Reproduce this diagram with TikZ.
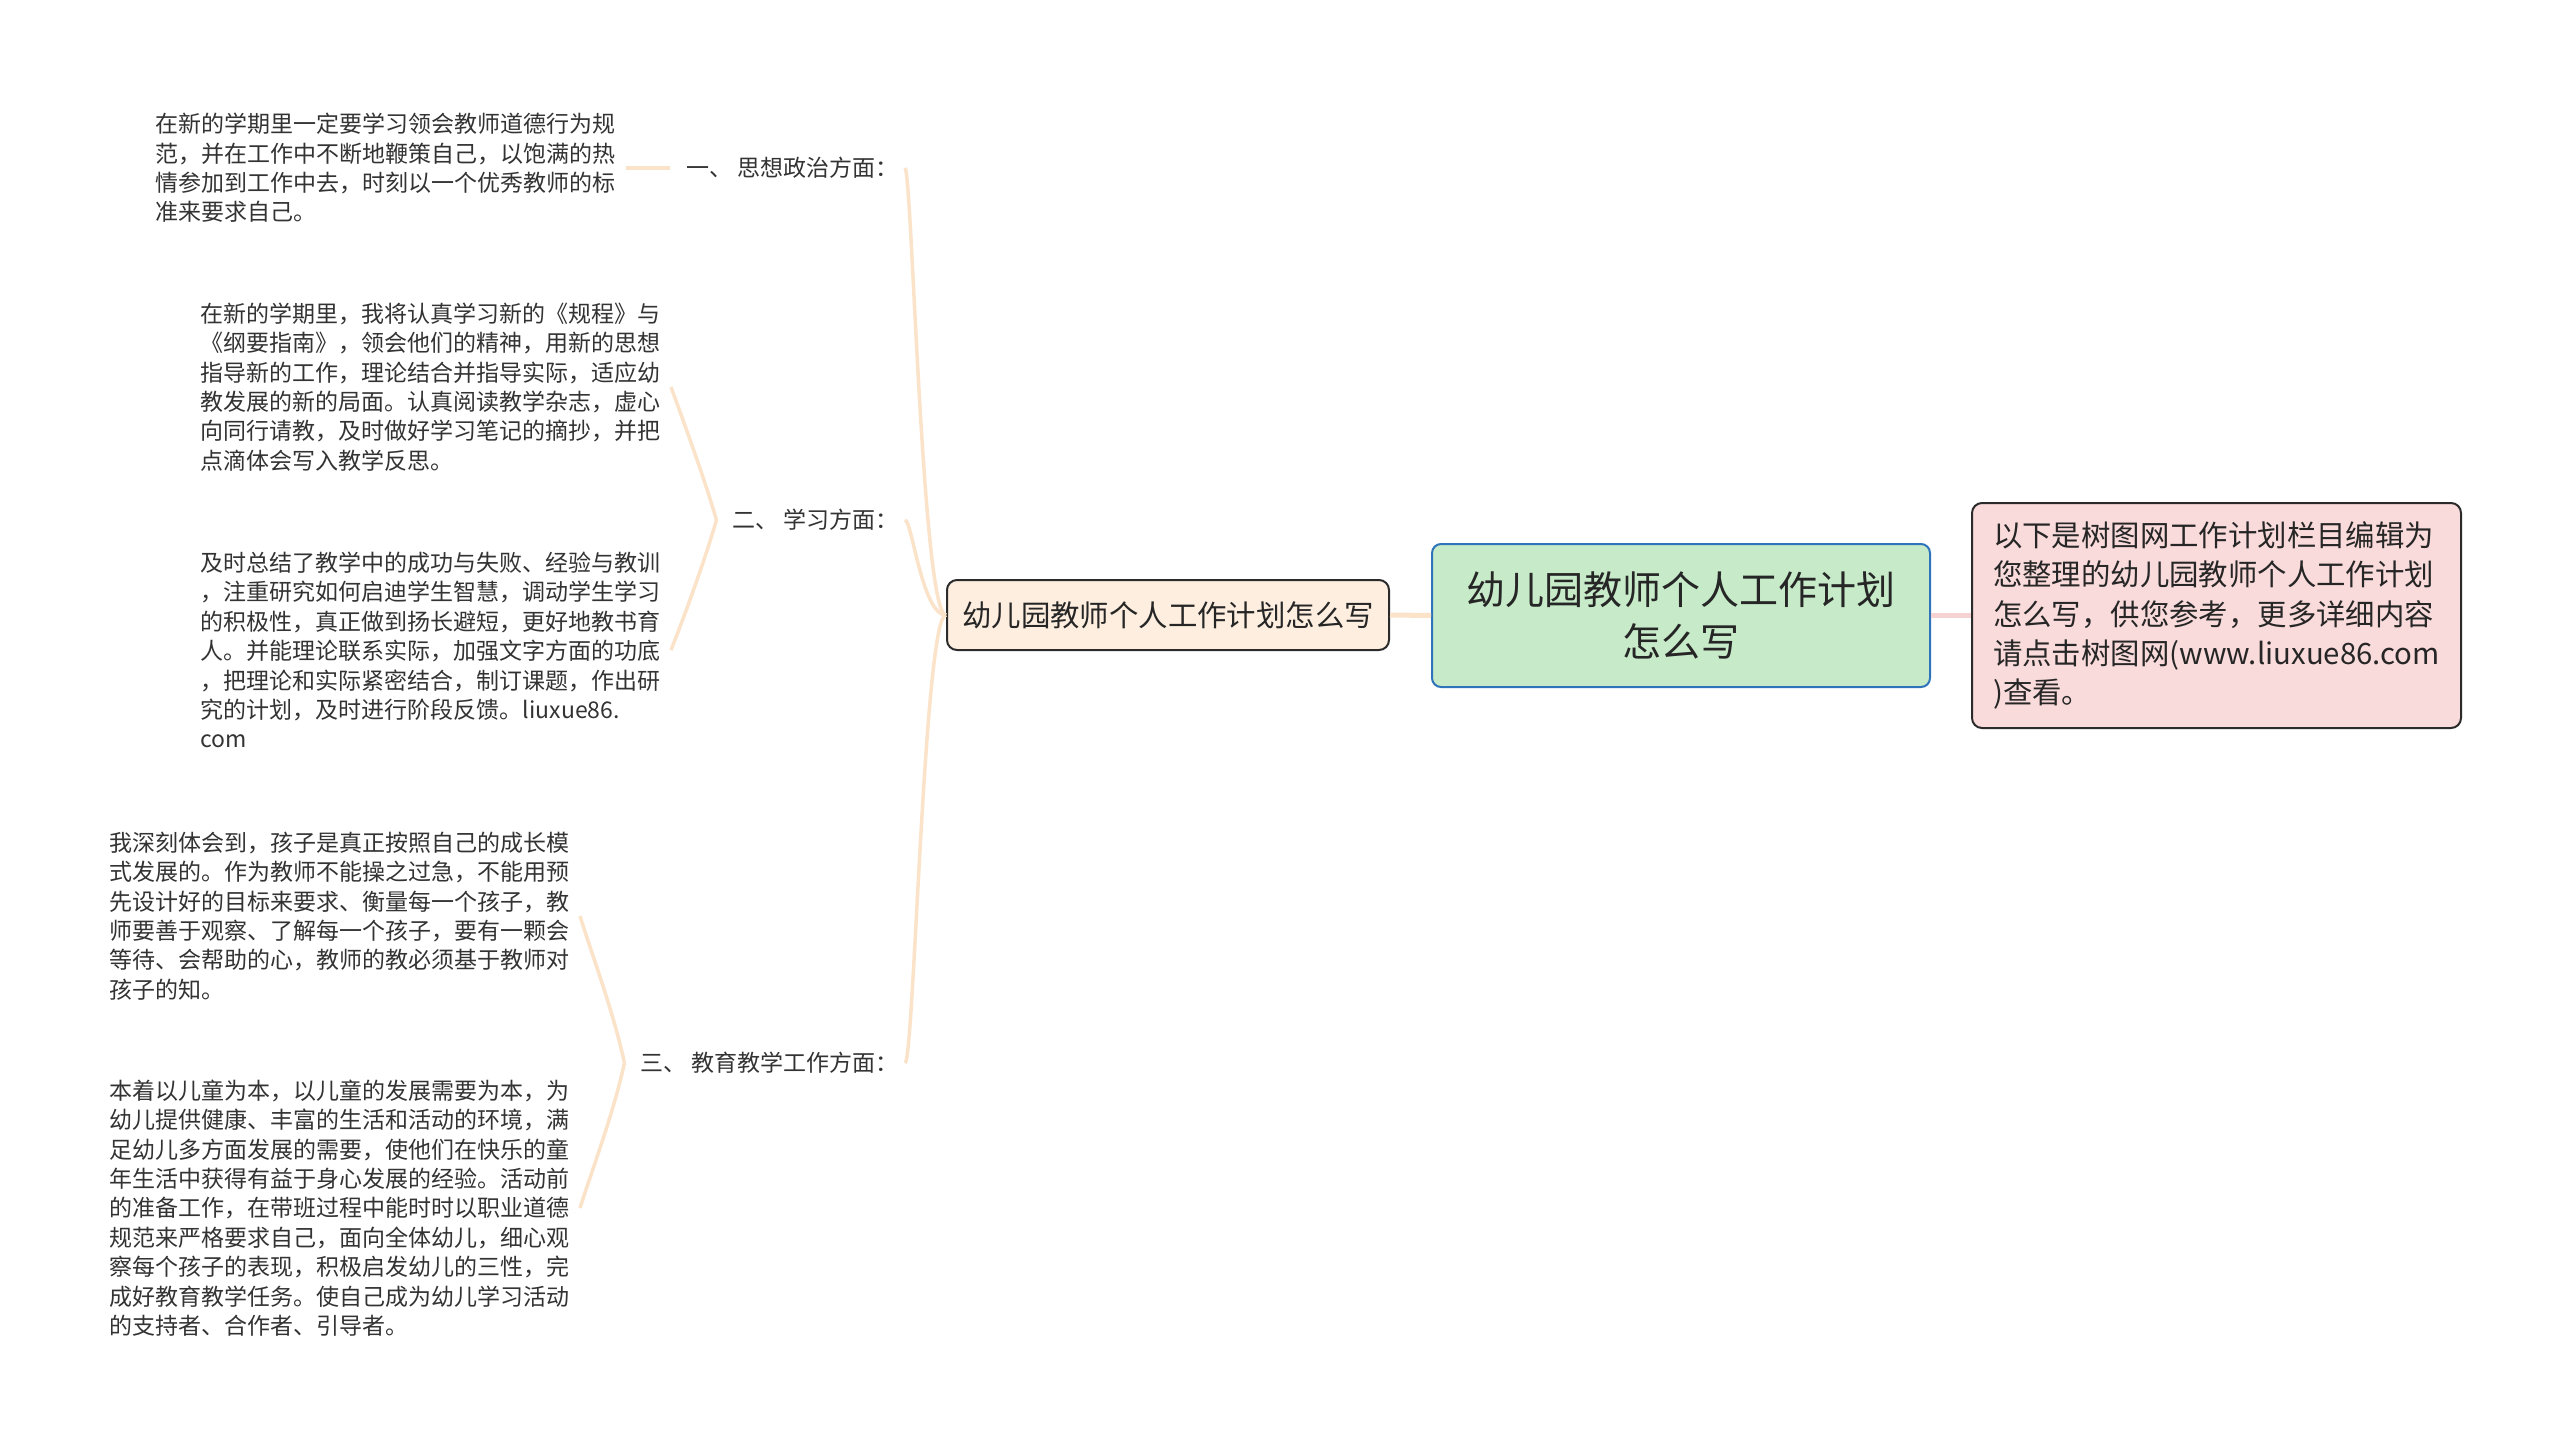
\documentclass[tikz,border=0pt]{standalone}
\usepackage{fontspec}
\setmainfont{Noto Sans CJK SC}
\definecolor{peach}{HTML}{FBE3C9}
\definecolor{pinkline}{HTML}{F7D2D2}
\definecolor{rootfill}{HTML}{C7EBC9}
\definecolor{rootdraw}{HTML}{2F73BA}
\definecolor{leftfill}{HTML}{FDEEDF}
\definecolor{rightfill}{HTML}{FADBDB}
\definecolor{boxdraw}{HTML}{2B2B2B}
\definecolor{txt}{HTML}{333333}
\begin{document}
\begin{tikzpicture}[x=1pt,y=-1pt,
  leaf/.style={font=\fontsize{23pt}{29.4pt}\selectfont, text=txt, align=left, inner xsep=10pt, inner ysep=0pt, anchor=east},
  lab/.style={font=\fontsize{23pt}{29.4pt}\selectfont, text=txt, inner xsep=6pt, inner ysep=2pt},
  conn/.style={draw=peach, line width=3.5pt},
  rootbox/.style={draw=rootdraw, fill=rootfill, line width=2pt, rounded corners=9pt, font=\fontsize{39pt}{52pt}\selectfont, text=black!85, align=center, minimum width=498pt, minimum height=143pt, inner sep=0pt},
  leftbox/.style={draw=boxdraw, fill=leftfill, line width=2pt, rounded corners=10pt, font=\fontsize{29.4pt}{39pt}\selectfont, text=black!85, align=center, minimum width=442pt, minimum height=70pt, inner sep=0pt},
  rightbox/.style={draw=boxdraw, fill=rightfill, line width=2pt, rounded corners=10pt, font=\fontsize{29.4pt}{39.2pt}\selectfont, text=black!85, align=left, minimum width=489pt, minimum height=225pt, inner xsep=17pt, inner ysep=0pt}
]
\useasboundingbox[fill=white] (0,0) rectangle (2560,1452);

% main nodes
\node[rootbox] (root) at (1681,615.5) {幼儿园教师个人工作计划\\怎么写};
\node[leftbox] (left) at (1168,615) {幼儿园教师个人工作计划怎么写};
\node[rightbox] (right) at (2216.5,615.5) {以下是树图网工作计划栏目编辑为\\您整理的幼儿园教师个人工作计划\\怎么写，供您参考，更多详细内容\\请点击树图网(www.liuxue86.com\\)查看。};

% branch labels
\node[lab, anchor=east] (lab1) at (905,168) {\hspace{10pt}一、 思想政治方面：};
\node[lab, anchor=east] (lab2) at (905,520) {\hspace{10pt}二、 学习方面：};
\node[lab, anchor=east] (lab3) at (905,1063) {\hspace{10pt}三、 教育教学工作方面：};

% leaves
\node[leaf] (leaf1) at (626,168) {在新的学期里一定要学习领会教师道德行为规\\范，并在工作中不断地鞭策自己，以饱满的热\\情参加到工作中去，时刻以一个优秀教师的标\\准来要求自己。};
\node[leaf] (leaf2) at (671,387) {在新的学期里，我将认真学习新的《规程》与\\《纲要指南》，领会他们的精神，用新的思想\\指导新的工作，理论结合并指导实际，适应幼\\教发展的新的局面。认真阅读教学杂志，虚心\\向同行请教，及时做好学习笔记的摘抄，并把\\点滴体会写入教学反思。};
\node[leaf] (leaf3) at (671,650) {及时总结了教学中的成功与失败、经验与教训\\，注重研究如何启迪学生智慧，调动学生学习\\的积极性，真正做到扬长避短，更好地教书育\\人。并能理论联系实际，加强文字方面的功底\\，把理论和实际紧密结合，制订课题，作出研\\究的计划，及时进行阶段反馈。liuxue86.\\com};
\node[leaf] (leaf4) at (580,916) {我深刻体会到，孩子是真正按照自己的成长模\\式发展的。作为教师不能操之过急，不能用预\\先设计好的目标来要求、衡量每一个孩子，教\\师要善于观察、了解每一个孩子，要有一颗会\\等待、会帮助的心，教师的教必须基于教师对\\孩子的知。};
\node[leaf] (leaf5) at (580,1208) {本着以儿童为本，以儿童的发展需要为本，为\\幼儿提供健康、丰富的生活和活动的环境，满\\足幼儿多方面发展的需要，使他们在快乐的童\\年生活中获得有益于身心发展的经验。活动前\\的准备工作，在带班过程中能时时以职业道德\\规范来严格要求自己，面向全体幼儿，细心观\\察每个孩子的表现，积极启发幼儿的三性，完\\成好教育教学任务。使自己成为幼儿学习活动\\的支持者、合作者、引导者。};

% connectors
\draw[conn, line width=5pt] (root.west) -- (left.east);
\draw[draw=pinkline, line width=5pt] (root.east) -- (right.west);
\draw[conn] (left.west) .. controls (922,615) and (912,170) .. (lab1.east);
\draw[conn] (left.west) .. controls (922,615) and (912,520) .. (lab2.east);
\draw[conn] (left.west) .. controls (924,615) and (914,1063) .. (lab3.east);
\draw[conn] (leaf1.east) -- (lab1.west);
\draw[conn] (lab2.west) .. controls (705,480) and (683,420) .. (leaf2.east);
\draw[conn] (lab2.west) .. controls (705,560) and (683,620) .. (leaf3.east);
\draw[conn] (lab3.west) .. controls (613,1010) and (592,955) .. (leaf4.east);
\draw[conn] (lab3.west) .. controls (613,1115) and (592,1170) .. (leaf5.east);
\end{tikzpicture}
\end{document}
